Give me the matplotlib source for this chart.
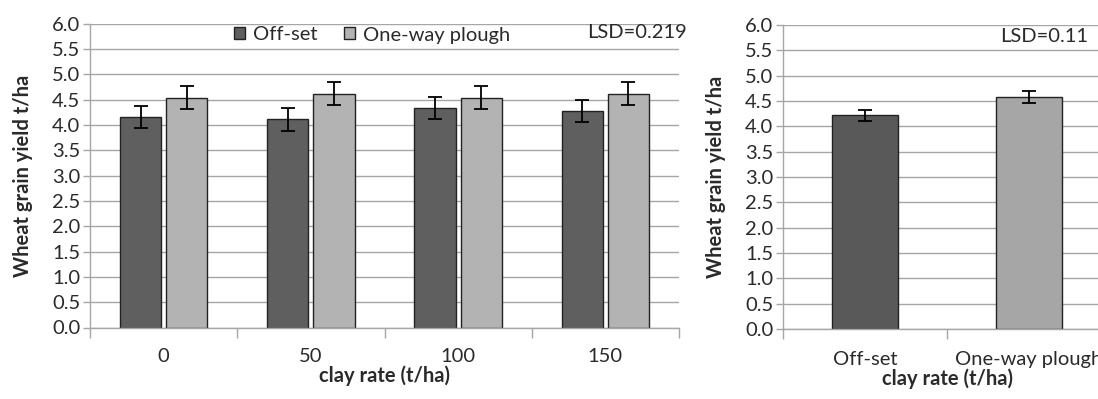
import numpy as np
import matplotlib
matplotlib.use("Agg")
import matplotlib.pyplot as plt
from matplotlib.patches import Patch

plt.rcParams["font.family"] = ["Lato", "DejaVu Sans"]

# ---- data ----
clay_rates = ["0", "50", "100", "150"]
offset_yield = [4.16, 4.11, 4.33, 4.27]
oneway_yield = [4.54, 4.62, 4.54, 4.62]
err_left = 0.22

tillage = ["Off-set", "One-way plough"]
tillage_yield = [4.22, 4.58]
err_right = 0.11

lsd_left = "LSD=0.219"
lsd_right = "LSD=0.11"
yticks = np.arange(0, 6.01, 0.5)

W, H = 1098, 399
fig = plt.figure(figsize=(W / 100, H / 100), dpi=100)


def px_axes(x0, y0, x1, y1):
    # pixel box (top-left origin) -> figure fraction
    return fig.add_axes([x0 / W, 1 - y1 / H, (x1 - x0) / W, (y1 - y0) / H])


GRID = "#a6a6a6"
TXT = "#2a2a2a"
DARK_L, LIGHT_L = "#5f5f5f", "#b3b3b3"
DARK_R, LIGHT_R = "#595959", "#a6a6a6"
FS = 14.5


def style(ax, n, ylab_x):
    ax.set_ylim(0, 6)
    ax.set_yticks(yticks)
    ax.set_yticklabels(["%.1f" % v for v in yticks], fontsize=FS, color=TXT)
    ax.yaxis.grid(True, color=GRID, lw=1.0)
    ax.set_axisbelow(True)
    for s in ["top", "right"]:
        ax.spines[s].set_visible(False)
    for s in ["left", "bottom"]:
        ax.spines[s].set_color(GRID)
        ax.spines[s].set_linewidth(1.0)
    ax.tick_params(axis="y", length=5, color=GRID, width=1.0, pad=2)
    ax.set_xlim(-0.5, n - 0.5)
    ax.set_xticks(np.arange(n + 1) - 0.5)
    ax.set_xticklabels([])
    ax.tick_params(axis="x", which="major", length=7, color=GRID, width=1.0)
    ax.set_xticks(np.arange(n), minor=True)
    ax.tick_params(axis="x", which="minor", length=0, pad=15, labelsize=FS,
                   labelcolor=TXT)
    ax.set_ylabel("Wheat grain yield t/ha", fontsize=FS, fontweight="bold", color=TXT)
    ax.yaxis.set_label_coords(ylab_x, 0.5)
    ax.set_xlabel("clay rate (t/ha)", fontsize=FS, fontweight="bold", labelpad=0,
                  color=TXT)


# ---- left panel ----
ax1 = px_axes(90, 23.7, 679, 327.5)
x = np.arange(len(clay_rates))
bw, off = 0.28, 0.157
ek = dict(ecolor="black", elinewidth=1.3, capsize=5, capthick=1.3)
ax1.bar(x - off, offset_yield, bw, color=DARK_L, edgecolor="#222222", lw=1.0,
        yerr=err_left, error_kw=ek)
ax1.bar(x + off, oneway_yield, bw, color=LIGHT_L, edgecolor="#222222", lw=1.0,
        yerr=err_left, error_kw=ek)
style(ax1, len(clay_rates), (33 - 90) / 589)
ax1.set_xticklabels(clay_rates, minor=True)
ax1.text(687 / W, 1 - 33 / H, lsd_left, transform=fig.transFigure, ha="right",
         va="center", fontsize=FS, color=TXT)
handles = [Patch(facecolor=DARK_L, edgecolor="#222222"),
           Patch(facecolor=LIGHT_L, edgecolor="#222222")]
fig.legend(handles, ["Off-set", "One-way plough"], loc="center",
           bbox_to_anchor=(372 / W, 1 - 35 / H), ncol=2, frameon=False,
           fontsize=FS, handlelength=0.55, handleheight=0.55, handletextpad=0.4,
           columnspacing=1.3, borderpad=0, labelcolor=TXT)

# ---- right panel ----
ax2 = px_axes(783, 25, 1111, 329)
x2 = np.arange(len(tillage))
ax2.bar(x2, tillage_yield, 0.4, color=[DARK_R, LIGHT_R], edgecolor="#222222",
        lw=1.0, yerr=err_right, error_kw=ek)
style(ax2, len(tillage), (726 - 783) / 328)
ax2.set_xticklabels(tillage, minor=True)
ax2.tick_params(axis="x", which="minor", pad=16)
ax2.text(1088 / W, 1 - 37 / H, lsd_right, transform=fig.transFigure, ha="right",
         va="center", fontsize=FS, color=TXT)

fig.savefig("out.png", dpi=100)
